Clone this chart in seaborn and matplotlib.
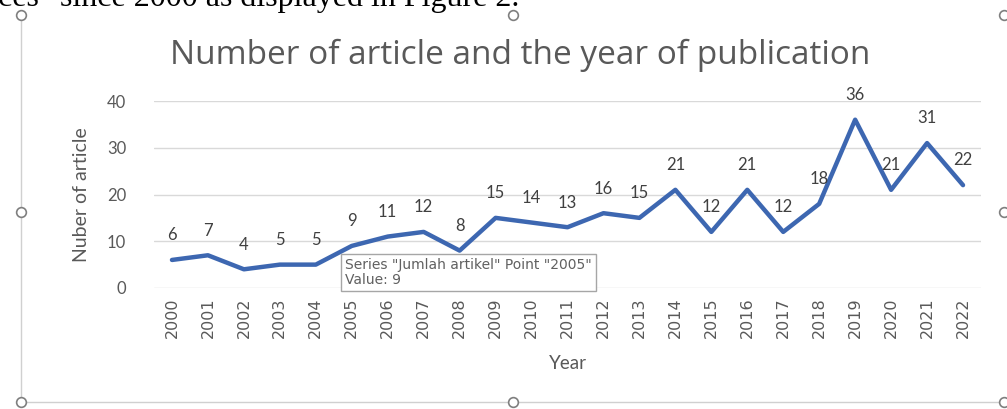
import pandas as pd
import seaborn as sns
from matplotlib import pyplot as plt
from matplotlib.lines import Line2D

years = list(range(2000, 2023))
articles = [6, 7, 4, 5, 5, 9, 11, 12, 8, 15, 14, 13, 16, 15, 21, 12, 21, 12, 18, 36, 21, 31, 22]
y_ticks = [0, 10, 20, 30, 40]

title = 'Number of article and the year of publication'
ylabel = 'Nuber of article'
xlabel = 'Year'
tooltip = 'Series "Jumlah artikel" Point "2005"\nValue: 9'
page_text = 'ces" since 2000 as displayed in Figure 2.'

frame = pd.DataFrame({'year': years, 'count': articles})

sns.set_style('white')
plt.rcParams['font.family'] = ['Lato', 'DejaVu Sans']

grey = '#595959'
blue = '#3d67b1'

fig = plt.figure(figsize=(10.07, 4.09), dpi=100)
ax = fig.add_axes([154 / 1007, 1 - 288 / 409, 827 / 1007, 187 / 409])

for t in y_ticks:
    ax.axhline(t, color='#d9d9d9', lw=1, zorder=0)

sns.lineplot(data=frame, x='year', y='count', ax=ax, color=blue, lw=3.2,
             solid_capstyle='round', solid_joinstyle='round', zorder=3)

for x, v in zip(years, articles):
    ax.annotate(str(v), xy=(x, v), xytext=(0, 12), textcoords='offset points',
                ha='center', va='bottom', fontsize=12, color='#404040', zorder=4)

ax.set_xlim(years[0] - 0.5, years[-1] + 0.5)
ax.set_ylim(0, 40)
ax.set_xticks(years)
ax.set_xticklabels([str(y) for y in years], rotation=90, fontsize=11.5, color=grey,
                   family=['Liberation Sans Narrow', 'DejaVu Sans'])
ax.set_yticks(y_ticks)
ax.set_yticklabels([str(t) for t in y_ticks], fontsize=12, color=grey)
ax.tick_params(axis='y', length=0, pad=20)
ax.tick_params(axis='x', length=0, pad=7)
for s in ax.spines.values():
    s.set_visible(False)

ax.set_xlabel(xlabel, fontsize=13.5, color=grey, labelpad=12)
ax.set_ylabel(ylabel, fontsize=14, color=grey, labelpad=12)
ax.set_title(title, fontsize=24, color=grey, pad=27, x=0.443,
             family=['Open Sans', 'DejaVu Sans'])

# hover tooltip from the screenshot
ax.annotate(tooltip, xy=(2005, 9), xytext=(-5, -9), textcoords='offset points',
            ha='left', va='top', fontsize=10, color='#606060', linespacing=1.05,
            family=['DejaVu Sans'],
            bbox=dict(boxstyle='square,pad=0.3', fc='white', ec='#a6a6a6', lw=1),
            zorder=6)

# chart selection frame and handles
fx = lambda px: px / 1007
fy = lambda py: 1 - py / 409
fig.add_artist(Line2D([fx(21), fx(21)], [fy(15), fy(402)], color='#d0d0d0', lw=1))
fig.add_artist(Line2D([fx(21), fx(1004)], [fy(402), fy(402)], color='#d0d0d0', lw=1))
for hx, hy in [(21, 15), (513, 15), (1004, 15), (21, 212), (1004, 212),
               (21, 402), (513, 402), (1004, 402)]:
    fig.add_artist(Line2D([fx(hx)], [fy(hy)], marker='o', ms=7, mfc='white',
                          mec='#7f7f7f', mew=1.2, ls='none'))

fig.text(fx(-2), fy(6), page_text, family='Liberation Serif', fontsize=23,
         color='black', va='baseline', ha='left')

fig.savefig('out.png', dpi=100)
